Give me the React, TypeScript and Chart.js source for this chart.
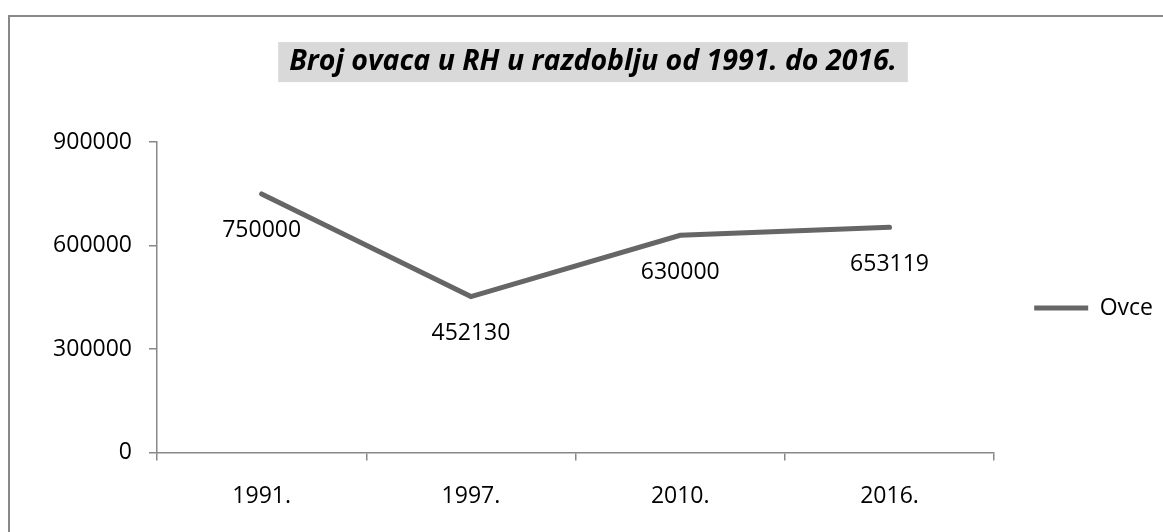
import React, { useEffect, useRef } from 'react';
import { Chart, registerables } from 'chart.js';

Chart.register(...registerables);

const categories = ['1991.', '1997.', '2010.', '2016.'];
const ovce = [750000, 452130, 630000, 653119];
const yTicks = [0, 300000, 600000, 900000];
const seriesLabel = 'Ovce';
const titleText = 'Broj ovaca u RH u razdoblju od 1991. do 2016.';

const FONT = '"Open Sans", "DejaVu Sans", sans-serif';
const AXIS_GRAY = '#888888';
const LINE_GRAY = '#666666';
const TITLE_BG = '#d9d9d9';
const TITLE_SIZE = 28.5;
const TITLE_PAD_TOP = 29;
const TITLE_PAD_BOTTOM = 63;
const TEXT_SIZE = 23;

export default function App() {
  const ref = useRef<HTMLCanvasElement>(null);

  useEffect(() => {
    document.body.style.margin = '0';
    const canvas = ref.current;
    if (!canvas) return;

    const framePlugin = {
      id: 'frame',
      beforeDraw(chart: any) {
        const { ctx, width, height } = chart;
        ctx.save();
        ctx.strokeStyle = AXIS_GRAY;
        ctx.lineWidth = 2;
        ctx.beginPath();
        ctx.moveTo(9, height + 5);
        ctx.lineTo(9, 16);
        ctx.lineTo(width + 5, 16);
        ctx.stroke();
        ctx.restore();
      },
    };

    const titleBgPlugin = {
      id: 'titleBg',
      beforeDraw(chart: any) {
        const tb = chart.titleBlock;
        if (!tb) return;
        const { ctx } = chart;
        ctx.save();
        ctx.font = `italic bold ${TITLE_SIZE}px ${FONT}`;
        const w = ctx.measureText(titleText).width;
        const cx = (tb.left + tb.right) / 2;
        const cy = tb.top + TITLE_PAD_TOP + (TITLE_SIZE * 1.2) / 2;
        ctx.fillStyle = TITLE_BG;
        ctx.fillRect(cx - w / 2 - 11, cy - 20, w + 22, 40);
        ctx.restore();
      },
    };

    const labelsPlugin = {
      id: 'pointLabels',
      afterDatasetsDraw(chart: any) {
        const { ctx } = chart;
        const meta = chart.getDatasetMeta(0);
        ctx.save();
        ctx.font = `${TEXT_SIZE}px ${FONT}`;
        ctx.fillStyle = '#000';
        ctx.textAlign = 'center';
        ctx.textBaseline = 'middle';
        meta.data.forEach((pt: any, i: number) => {
          ctx.fillText(String(ovce[i]), pt.x, pt.y + 37);
        });
        ctx.restore();
      },
    };

    const chart = new Chart(canvas, {
      type: 'line',
      data: {
        labels: categories,
        datasets: [
          {
            label: seriesLabel,
            data: ovce,
            borderColor: LINE_GRAY,
            backgroundColor: LINE_GRAY,
            borderWidth: 5,
            borderCapStyle: 'round',
            borderJoinStyle: 'miter',
            pointRadius: 0,
            pointHoverRadius: 0,
            tension: 0,
            fill: false,
          },
        ],
      },
      options: {
        animation: false,
        responsive: true,
        maintainAspectRatio: false,
        events: [],
        layout: { padding: { left: 23, right: 0, top: 16, bottom: 0 } },
        scales: {
          x: {
            type: 'category',
            offset: true,
            grid: {
              offset: true,
              drawOnChartArea: false,
              drawTicks: true,
              tickLength: 8,
              color: AXIS_GRAY,
              lineWidth: 1.5,
            },
            border: { display: true, color: AXIS_GRAY, width: 1.5 },
            ticks: {
              color: '#000',
              font: { family: FONT, size: TEXT_SIZE },
              padding: 22,
              maxRotation: 0,
            },
          },
          y: {
            min: 0,
            max: 900000,
            afterBuildTicks: (scale: any) => {
              scale.ticks = yTicks.map((v) => ({ value: v }));
            },
            afterFit: (scale: any) => {
              scale.width = 134;
            },
            grid: {
              drawOnChartArea: false,
              drawTicks: true,
              tickLength: 8,
              color: AXIS_GRAY,
              lineWidth: 1.5,
            },
            border: { display: true, color: AXIS_GRAY, width: 1.5 },
            ticks: {
              color: '#000',
              font: { family: FONT, size: TEXT_SIZE },
              padding: 17,
              callback: (v: any) => String(v),
            },
          },
        },
        plugins: {
          tooltip: { enabled: false },
          title: {
            display: true,
            text: titleText,
            color: '#000',
            font: { family: FONT, size: TITLE_SIZE, weight: 'bold', style: 'italic', lineHeight: 1.2 },
            padding: { top: TITLE_PAD_TOP, bottom: TITLE_PAD_BOTTOM },
          },
          legend: {
            display: true,
            position: 'right',
            align: 'center',
            fullSize: false,
            title: { display: true, text: ' ', font: { size: 18, lineHeight: 1.2 }, padding: 0 },
            labels: {
              usePointStyle: true,
              pointStyle: 'line',
              pointStyleWidth: 54,
              color: '#000',
              font: { family: FONT, size: TEXT_SIZE },
              padding: 40,
            },
          },
        },
      },
      plugins: [framePlugin, titleBgPlugin, labelsPlugin],
    } as any);

    return () => chart.destroy();
  }, []);

  return (
    <div style={{ position: 'relative', width: '1163px', height: '532px' }}>
      <canvas ref={ref} />
    </div>
  );
}
